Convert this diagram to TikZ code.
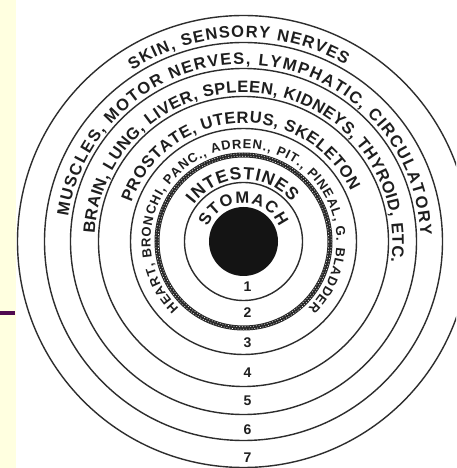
\documentclass[tikz,border=0pt]{standalone}
\usepackage{fontspec}
\setmainfont{Liberation Sans}
\usetikzlibrary{decorations.text}
\definecolor{yellowbg}{RGB}{255,255,224}
\definecolor{purplebar}{RGB}{80,10,80}
\definecolor{ringc}{RGB}{45,45,45}
\definecolor{txtc}{RGB}{30,30,30}
\definecolor{ropec}{RGB}{40,40,40}
\newcommand{\fbig}{\fontsize{16.5}{16.5}\bfseries\selectfont}
\newcommand{\fmid}{\fontsize{17.5}{17.5}\bfseries\selectfont}
\newcommand{\fsmall}{\fontsize{13}{13}\bfseries\selectfont}
\newcommand{\fnum}{\fontsize{14}{14}\bfseries\selectfont}
\tikzset{
  ring/.style={draw=ringc, line width=1.4},
  arctext/.style={decorate, decoration={text along path, text align={fit to path}, text color=txtc, text={#1}}},
  numlabel/.style={font=\fnum, text=txtc, inner sep=0pt}
}
\begin{document}
\begin{tikzpicture}[x=1pt,y=1pt]
\useasboundingbox (-243.5,-226.5) rectangle (212.5,241.5);
\fill[white] (-243.5,-226.5) rectangle (212.5,241.5);
\fill[yellowbg] (-243.5,-226.5) rectangle (-227.5,241.5);
\fill[purplebar] (-243.5,-69.5) rectangle (-228,-73.5);
\clip (-243.5,-226.5) rectangle (212.5,241.5);
% circles
\fill[black!92] (0,0) circle[radius=34.5];
\draw[ring] (0,0) circle[radius=59];
\draw[line width=5, draw=ropec] (0,0) circle[radius=86.5];
\draw[line width=0.6, white, dash pattern=on 0.9 off 1.9] (0,0) circle[radius=85.3];
\draw[line width=0.6, white, dash pattern=on 0.9 off 1.9, dash phase=1.4] (0,0) circle[radius=87.7];
\draw[ring] (0,0) circle[radius=113];
\draw[ring] (0,0) circle[radius=145];
\draw[ring] (0,0) circle[radius=173];
\draw[ring] (0,0) circle[radius=199];
\draw[ring] (0,0) circle[radius=226];
% curved texts
\path[arctext={|\fbig|SKIN, SENSORY NERVES}] (123:204) arc[start angle=123, end angle=60, radius=204];
\path[arctext={|\fbig|MUSCLES, MOTOR NERVES, LYMPHATIC, CIRCULATORY}] (172:177) arc[start angle=172, end angle=2, radius=177];
\path[arctext={|\fbig|BRAIN, LUNG, LIVER, SPLEEN, KIDNEYS, THYROID, ETC.}] (177:149) arc[start angle=177, end angle=-8, radius=149];
\path[arctext={|\fbig|PROSTATE, UTERUS, SKELETON}] (161:118.5) arc[start angle=161, end angle=25, radius=118.5];
\path[arctext={|\fsmall|HEART, BRONCHI, PANC., ADREN., PIT., PINEAL, G. BLADDER}] (226:93) arc[start angle=226, end angle=-46, radius=93];
\path[arctext={|\fmid|INTESTINES}] (143:62) arc[start angle=143, end angle=39, radius=62];
\path[arctext={|\fbig|STOMACH}] (158:38.5) arc[start angle=158, end angle=22, radius=38.5];
% numbers
\node[numlabel] (n1) at (4,-45.5) {1};
\node[numlabel] (n2) at (4,-71.5) {2};
\node[numlabel] (n3) at (4,-101.5) {3};
\node[numlabel] (n4) at (4,-131.5) {4};
\node[numlabel] (n5) at (4,-159.5) {5};
\node[numlabel] (n6) at (4,-188.5) {6};
\node[numlabel] (n7) at (4,-216.5) {7};
\end{tikzpicture}
\end{document}
